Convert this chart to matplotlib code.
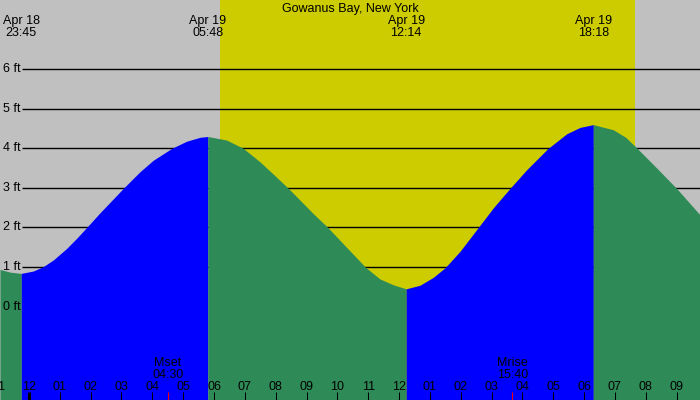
import matplotlib
matplotlib.use('Agg')
import matplotlib.pyplot as plt
import numpy as np

# hours from midnight Apr 19, tide height in ft
tide_hours = [-0.94, -0.60, -0.25, 0.14, 0.46, 0.79, 1.22, 1.55, 1.87, 2.30, 2.73, 3.06,
              3.60, 4.03, 4.63, 5.11, 5.55, 5.80,
              6.41, 6.95, 7.49, 7.92, 8.41, 8.79, 9.22, 9.69, 10.20, 10.92, 11.38, 11.82, 12.23,
              12.68, 13.11, 13.49, 13.98, 14.57, 15.06, 15.60, 16.14, 16.82, 17.44, 17.87, 18.30,
              18.95, 19.35, 19.71, 20.36, 21.01, 21.76]
tide_ft = [0.94, 0.87, 0.84, 0.90, 1.01, 1.18, 1.47, 1.73, 2.00, 2.37, 2.72, 2.99,
           3.41, 3.70, 4.00, 4.18, 4.28, 4.30,
           4.21, 4.00, 3.66, 3.35, 2.99, 2.69, 2.35, 2.00, 1.58, 0.99, 0.70, 0.55, 0.45,
           0.54, 0.74, 0.98, 1.40, 2.00, 2.50, 2.99, 3.46, 3.99, 4.37, 4.53, 4.60,
           4.47, 4.28, 4.01, 3.50, 2.98, 2.32]

extreme_hours = [-0.25, 5.80, 12.23, 18.30]
extreme_labels = ['Apr 18\n23:45', 'Apr 19\n05:48', 'Apr 19\n12:14', 'Apr 19\n18:18']

sunrise, sunset = 6.20, 19.65

moon_hours = [4.50, 15.67]
moon_labels = ['Mset\n04:30', 'Mrise\n15:40']

hour_ticks = list(range(-1, 22))
hour_labels = ['11', '12', '01', '02', '03', '04', '05', '06', '07', '08', '09', '10', '11',
               '12', '01', '02', '03', '04', '05', '06', '07', '08', '09']

ft_levels = [0, 1, 2, 3, 4, 5, 6]

title = 'Gowanus Bay, New York'

W, H = 700, 400
plt.rcParams['font.family'] = ['Liberation Sans', 'DejaVu Sans']
FS = 9

fig = plt.figure(figsize=(W / 100, H / 100), dpi=100)
ax = fig.add_axes([0, 0, 1, 1])
ax.set_facecolor('#c0c0c0')
fig.patch.set_facecolor('#c0c0c0')
ax.set_xlim(-0.94, 21.76)
ymin, ymax = -2.36, 7.75
ax.set_ylim(ymin, ymax)
ax.set_xticks([])
ax.set_yticks([])
for s in ax.spines.values():
    s.set_visible(False)

def py(p):
    # pixel row from top -> axes fraction
    return 1 - p / H

xt = ax.get_xaxis_transform()

# daylight
ax.axvspan(sunrise, sunset, color='#cccc00', lw=0, zorder=0)

# ft grid lines
for lv in ft_levels[1:]:
    ax.hlines(lv, -0.227, 21.76, color='black', lw=1.0, zorder=1)

# tide fill, coloured by rising / falling
t = np.array(tide_hours)
h = np.array(tide_ft)
bounds = [-np.inf] + extreme_hours + [np.inf]
colors = ['#2e8b57', '#0000ff', '#2e8b57', '#0000ff', '#2e8b57']
for i in range(len(bounds) - 1):
    m = (t >= bounds[i]) & (t <= bounds[i + 1])
    ax.fill_between(t[m], ymin - 1, h[m], color=colors[i], lw=0, zorder=2)

# ft labels
for lv in ft_levels:
    ax.text(-0.94 + 3 / 30.83, lv, f'{lv} ft', fontsize=FS, ha='left', va='center', zorder=4)

# title and extreme labels
ax.text(0.5, py(12), title, transform=ax.transAxes, fontsize=FS, ha='center', va='baseline', zorder=4)
for xh, lab in zip(extreme_hours, extreme_labels):
    l1, l2 = lab.split('\n')
    ax.text(xh, py(24), l1, transform=xt, fontsize=FS, ha='center', va='baseline', zorder=4)
    ax.text(xh, py(36), l2, transform=xt, fontsize=FS, ha='center', va='baseline', zorder=4)

# hour ticks and labels
for xh, lab in zip(hour_ticks, hour_labels):
    lw = 2.2 if xh == 0 else 0.75
    ax.vlines(xh, 0, 8 / H, transform=xt, color='black', lw=lw, zorder=4)
    ax.text(xh, py(390), lab, transform=xt, fontsize=FS, ha='center', va='baseline', zorder=4)

# moon rise / set
for xh, lab in zip(moon_hours, moon_labels):
    l1, l2 = lab.split('\n')
    ax.vlines(xh, 0, 8 / H, transform=xt, color='red', lw=0.75, zorder=5)
    ax.text(xh, py(366), l1, transform=xt, fontsize=FS, ha='center', va='baseline', zorder=4)
    ax.text(xh, py(378), l2, transform=xt, fontsize=FS, ha='center', va='baseline', zorder=4)

fig.savefig('out.png', dpi=100, facecolor=fig.get_facecolor())
